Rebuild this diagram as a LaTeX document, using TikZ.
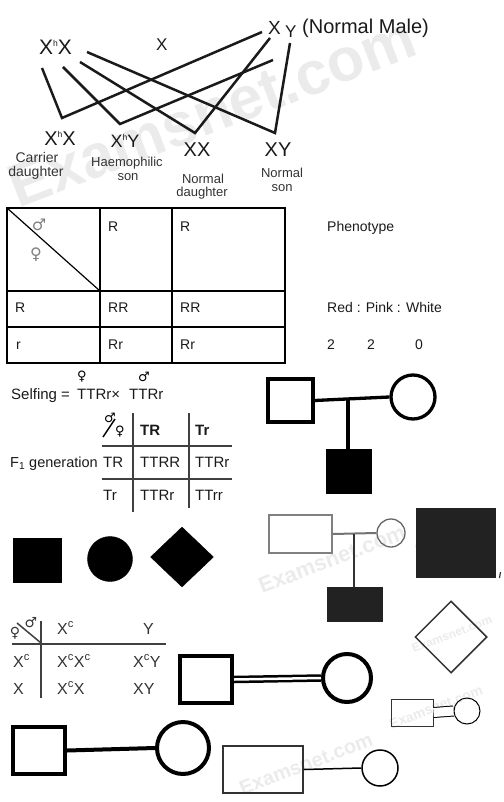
\documentclass[tikz,border=0pt]{standalone}
\usepackage{fontspec}
\setmainfont{Liberation Sans}
\newfontfamily\symf{DejaVu Sans}
\usetikzlibrary{shapes.geometric,calc}
\definecolor{ink}{HTML}{1A1A1A}
\definecolor{inkgrey}{HTML}{333333}
\definecolor{dfill}{HTML}{222222}
\newcommand\myfs[1]{\fontsize{#1}{#1}\selectfont}
\newcommand\tinysup[1]{\raisebox{0.42em}{\fontsize{8.5}{8.5}\selectfont #1}}
\tikzset{
  txt/.style={inner sep=0pt, text=ink},
  tl/.style={txt, anchor=base west},
  tc/.style={txt, anchor=base},
  wm/.style={inner sep=0pt, text=black!8, font=\bfseries\myfs{#1}, rotate=21},
  gline/.style={line width=2.5pt, draw=ink, line join=miter},
  tblline/.style={line width=2.2pt, draw=black},
  thinline/.style={line width=1.3pt, draw=black!75},
  thick4/.style={line width=4pt, draw=black},
  sqnode/.style={draw, rectangle, inner sep=0pt},
  cnode/.style={draw, circle, inner sep=0pt},
  dnode/.style={draw, diamond, inner sep=0pt},
  symb/.style={txt, text=black, font=\symf\bfseries\myfs{#1}},
}
\begin{document}
\begin{tikzpicture}[x=1pt,y=-1pt]
\useasboundingbox (0,0) rectangle (503,802);
% watermarks
\node[wm=61] (w1) at (212,112) {Examsnet.com};
\node[wm=22] (w2) at (332,559) {Examsnet.com};
\node[wm=12] (w3) at (455,535) {Examsnet.com};
\node[wm=12] (w4) at (452,634) {Examsnet.com};
\node[wm=14] (w5) at (436,707) {Examsnet.com};
\node[wm=20] (w6) at (306,764) {Examsnet.com};

% ---------- cross diagram ----------
\node[tl, font=\myfs{21}] (mom) at (39,55) {X\tinysup{h}X};
\node[tl, font=\myfs{17}] (mid) at (156,51) {X};
\node[tl, font=\myfs{19}] (dadx) at (268,35) {X};
\node[tl, font=\myfs{17}] (dady) at (285,38) {Y};
\node[tl, font=\myfs{20}] (nm) at (302,34) {(Normal Male)};
\coordinate (a1) at (42,68);  \coordinate (b1) at (62,118);  \coordinate (c1) at (262,32);
\coordinate (a2) at (63,67);  \coordinate (b2) at (120,124); \coordinate (c2) at (273,60);
\coordinate (a3) at (80,62);  \coordinate (b3) at (195,133); \coordinate (c3) at (270,38);
\coordinate (a4) at (87,52);  \coordinate (b4) at (275,133); \coordinate (c4) at (290,43);
\draw[gline] (a1) -- (b1) -- (c1);
\draw[gline] (a2) -- (b2) -- (c2);
\draw[gline] (a3) -- (b3) -- (c3);
\draw[gline] (a4) -- (b4) -- (c4);
\node[tc, font=\myfs{20}] (o1) at (60,146) {X\tinysup{h}X};
\node[tc, font=\myfs{14}, text=inkgrey] (o1a) at (37,163) {Carrier};
\node[tc, font=\myfs{14}, text=inkgrey] (o1b) at (36,177) {daughter};
\node[tc, font=\myfs{18}] (o2) at (125,148) {X\tinysup{h}Y};
\node[tc, font=\myfs{13}, text=inkgrey] (o2a) at (127,167) {Haemophilic};
\node[tc, font=\myfs{13}, text=inkgrey] (o2b) at (128,181) {son};
\node[tc, font=\myfs{20}] (o3) at (197,157) {XX};
\node[tc, font=\myfs{13}, text=inkgrey] (o3a) at (203,184) {Normal};
\node[tc, font=\myfs{13}, text=inkgrey] (o3b) at (202,197) {daughter};
\node[tc, font=\myfs{20}] (o4) at (278,157) {XY};
\node[tc, font=\myfs{13}, text=inkgrey] (o4a) at (282,178) {Normal};
\node[tc, font=\myfs{13}, text=inkgrey] (o4b) at (282,192) {son};

% ---------- Punnett table 1 ----------
\draw[tblline] (7,208) rectangle (285,363);
\draw[tblline] (100,208) -- (100,363);
\draw[tblline] (172,208) -- (172,363);
\draw[tblline] (7,291) -- (285,291);
\draw[tblline] (7,327) -- (285,327);
\draw[line width=1.2pt] (7,208) -- (100,291);
\node[txt, text=black!50, font=\symf\myfs{16}] (t1m) at (39,225) {♂};
\node[txt, text=black!50, font=\symf\myfs{16}] (t1f) at (36,255) {♀};
\begin{scope}[every node/.style={tl, font=\myfs{14}}]
\node (t1c1) at (108,232) {R};
\node (t1c2) at (180,232) {R};
\node (t1r1) at (15,312) {R};
\node (t1a) at (108,312) {RR};
\node (t1b) at (180,312) {RR};
\node (t1r2) at (16,349) {r};
\node (t1c) at (108,349) {Rr};
\node (t1d) at (180,349) {Rr};
\node (ph) at (327,231) {Phenotype};
\node (rpw) at (327,312) {Red : Pink : White};
\node (n1) at (327,349) {2};
\node (n2) at (367,349) {2};
\node (n3) at (415,349) {0};
\end{scope}

% ---------- Selfing table ----------
\node[tl, font=\myfs{15}] (self) at (11,399) {Selfing =};
\node[tl, font=\myfs{15}] (selfa) at (77,399) {TTRr×};
\node[tl, font=\myfs{15}] (selfb) at (129,399) {TTRr};
\node[symb=13] (sf) at (82,377) {♀};
\node[symb=13] (sm) at (144,377) {♂};
\draw[thinline] (133,413) -- (133,512);
\draw[thinline] (189,413) -- (189,508);
\draw[thinline] (102,446) -- (232,446);
\draw[thinline] (102,479) -- (232,479);
\draw[line width=1.4pt] (103,437) -- (115,419);
\node[symb=13] (hm) at (110,418) {♂};
\node[symb=13] (hf) at (120,432) {♀};
\begin{scope}[every node/.style={tl, font=\myfs{15}}]
\node[font=\bfseries\myfs{15}] (h1) at (140,435) {TR};
\node[font=\bfseries\myfs{15}] (h2) at (195,435) {Tr};
\node[font=\myfs{14.5}] (f1) at (10,467) {F\textsubscript{1} generation};
\node (r1) at (103,467) {TR};
\node (e1) at (140,467) {TTRR};
\node (e2) at (195,467) {TTRr};
\node (r2) at (103,500) {Tr};
\node (e3) at (140,500) {TTRr};
\node (e4) at (195,500) {TTrr};
\end{scope}

% ---------- Pedigree 1 ----------
\node[sqnode, line width=3.3pt, minimum width=45pt, minimum height=43pt] (p1m) at (290.5,400.5) {};
\node[cnode, line width=3.3pt, minimum size=44pt] (p1f) at (413,397) {};
\draw[line width=3.3pt] (p1m.east) -- (p1f.west);
\coordinate (p1mid) at (348,398.5);
\node[sqnode, fill=black, line width=1pt, minimum width=45pt, minimum height=44pt] (p1c) at (348.5,471) {};
\draw[line width=3.3pt] (p1mid) -- (p1mid |- p1c.north);

% ---------- filled symbols ----------
\node[sqnode, fill=black, minimum width=48pt, minimum height=44pt] (fs) at (37,560) {};
\node[cnode, fill=black, minimum size=45pt] (fc) at (110,559) {};
\node[dnode, fill=black, minimum width=63pt, minimum height=60pt] (fd) at (182,557) {};

% ---------- Pedigree 2 ----------
\node[sqnode, draw=black!50, line width=2pt, minimum width=63pt, minimum height=38pt] (p2m) at (300.5,534) {};
\node[cnode, draw=black!60, line width=1.3pt, minimum size=28pt] (p2f) at (391,533) {};
\draw[draw=black!55, line width=2pt] (p2m.east) -- (p2f.west);
\coordinate (p2mid) at (354,534);
\node[sqnode, fill=dfill, draw=dfill, minimum width=55pt, minimum height=34pt] (p2c) at (354.5,604) {};
\draw[draw=black!80, line width=1.4pt] (p2mid) -- (p2mid |- p2c.north);
\node[sqnode, fill=dfill, draw=dfill, minimum width=79pt, minimum height=69pt] (bigsq) at (455.5,542.5) {};
\coordinate (mk1) at (500.5,572); \coordinate (mk2) at (499.5,578);
\draw[line width=1.2pt, draw=black!80] (mk1) -- (mk2);
\node[dnode, draw=inkgrey, line width=1.5pt, minimum width=72pt, minimum height=72pt] (odia) at (451,637) {};

% ---------- Punnett table 3 ----------
\draw[line width=1.5pt, draw=black!75] (41,621) -- (41,698);
\draw[line width=1.5pt, draw=black!75] (12,644) -- (166,644);
\draw[line width=1.5pt, draw=black!75] (17,623) -- (41,643);
\node[txt, text=inkgrey, font=\symf\myfs{14}] (t3f) at (15,633) {♀};
\node[txt, text=inkgrey, font=\symf\myfs{14}] (t3m) at (31,623) {♂};
\begin{scope}[every node/.style={tl, text=inkgrey, font=\myfs{16}}]
\node (g1) at (57,634) {X\textsuperscript{c}};
\node (g2) at (143,634) {Y};
\node (g3) at (13,667) {X\textsuperscript{c}};
\node (g4) at (57,667) {X\textsuperscript{c}X\textsuperscript{c}};
\node (g5) at (133,667) {X\textsuperscript{c}Y};
\node (g6) at (13,694) {X};
\node (g7) at (57,694) {X\textsuperscript{c}X};
\node (g8) at (133,694) {XY};
\end{scope}

% ---------- double-line couple ----------
\node[sqnode, line width=4pt, minimum width=52pt, minimum height=47pt] (p3m) at (206,679.5) {};
\node[cnode, line width=4pt, minimum size=48pt] (p3f) at (347,678) {};
\draw[line width=2.5pt, double=white, double distance=2.5pt] (p3m.east) -- (p3f.west);

% ---------- small double couple ----------
\node[sqnode, draw=inkgrey, line width=1pt, minimum width=42pt, minimum height=27pt] (p4m) at (412,712.5) {};
\node[cnode, line width=1pt, minimum size=26pt] (p4f) at (467,711) {};
\draw[line width=1pt, double=white, double distance=9pt] (p4m.east) -- (p4f.west);

% ---------- bottom-left couple ----------
\node[sqnode, line width=4pt, minimum width=52pt, minimum height=47pt] (p5m) at (39,750.5) {};
\node[cnode, line width=4pt, minimum size=52pt] (p5f) at (183,748) {};
\draw[thick4] (p5m.east) -- (p5f.west);

% ---------- bottom-middle couple ----------
\node[sqnode, draw=inkgrey, line width=1.5pt, minimum width=80pt, minimum height=47pt] (p6m) at (263,769.5) {};
\node[cnode, line width=1.5pt, minimum size=36pt] (p6f) at (380,768) {};
\draw[line width=1.5pt] (p6m.east) -- (p6f.west);
\end{tikzpicture}
\end{document}
